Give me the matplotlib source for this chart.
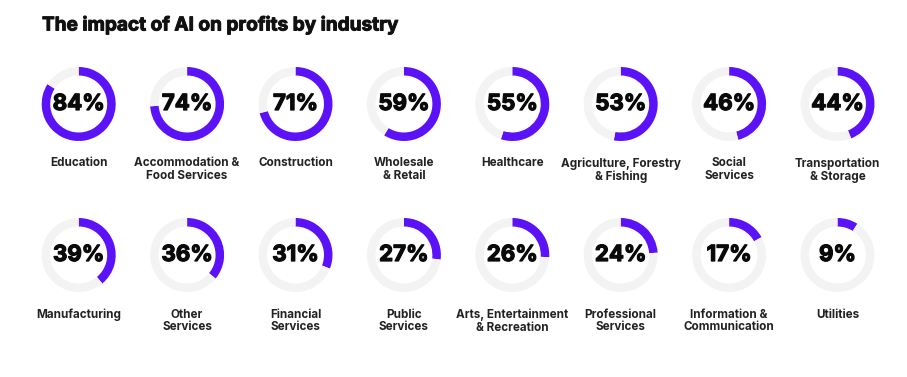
import matplotlib
matplotlib.use("Agg")
import matplotlib.pyplot as plt
import matplotlib.patheffects as pe

title = "The impact of AI on profits by industry"
industries = [
    "Education", "Accommodation &\nFood Services", "Construction", "Wholesale\n& Retail",
    "Healthcare", "Agriculture, Forestry\n& Fishing", "Social\nServices", "Transportation\n& Storage",
    "Manufacturing", "Other\nServices", "Financial\nServices", "Public\nServices",
    "Arts, Entertainment\n& Recreation", "Professional\nServices", "Information &\nCommunication", "Utilities",
]
values = [84, 74, 71, 59, 55, 53, 46, 44, 39, 36, 31, 27, 26, 24, 17, 9]

PURPLE = "#5b12f6"
GRAY = "#f3f3f3"
W, H = 907, 377
fig = plt.figure(figsize=(W / 100, H / 100), dpi=100)
fig.patch.set_facecolor("white")

FONT = ["Inter", "DejaVu Sans"]
fig.text(42 / W, 1 - 25 / H, title, fontsize=13.7, fontweight="bold", family=FONT,
         color="#111111", ha="left", va="center",
         path_effects=[pe.withStroke(linewidth=0.7, foreground="#111111")])

x0, dx = 78.7, 108.4
row_y = [104, 255]
label_y = [162.5, 313.5]
R = 37.0
box = R * 2
for i, (name, v) in enumerate(zip(industries, values)):
    row, col = divmod(i, 8)
    cx = x0 + dx * col
    cy = row_y[row]
    ax = fig.add_axes([(cx - R) / W, 1 - (cy + R) / H, box / W, box / H])
    ax.pie([v, 100 - v], startangle=90, counterclock=False, colors=[PURPLE, GRAY],
           radius=1.0, wedgeprops=dict(width=0.23, linewidth=0))
    ax.set_xlim(-1, 1)
    ax.set_ylim(-1, 1)
    ax.set_aspect("equal")
    ax.axis("off")
    ax.text(0, 0, f"{v}%", ha="center", va="center", fontsize=16.0, fontweight="bold",
            family=FONT, color="#0a0a0a",
            path_effects=[pe.withStroke(linewidth=0.9, foreground="#0a0a0a")])
    fig.text(cx / W, 1 - (label_y[row] - 5) / H, name, ha="center", va="top",
             fontsize=8.4, fontweight="bold", family=FONT, color="#222222", linespacing=1.08)

fig.savefig("out.png", dpi=100, facecolor="white")
